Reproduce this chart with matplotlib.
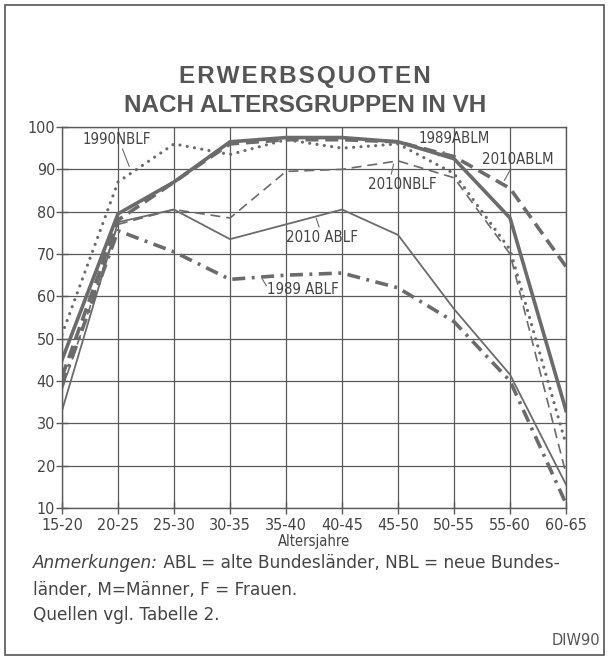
import matplotlib
matplotlib.use("Agg")
import matplotlib.pyplot as plt
from matplotlib.patches import Rectangle

# Altersgruppen
gruppen = ["15-20", "20-25", "25-30", "30-35", "35-40",
           "40-45", "45-50", "50-55", "55-60", "60-65"]

ablm_1989 = [45, 79.5, 87, 96.5, 97.5, 97.5, 96.5, 92.5, 78.5, 33]
ablm_2010 = [41, 78, 87, 96, 97, 97, 96.5, 93, 85.5, 67]
nblf_2010 = [38, 77, 80.5, 78.5, 89.5, 90, 92, 88, 70, 18]
ablf_2010 = [33, 77.5, 80.5, 73.5, 77, 80.5, 74.5, 57, 41.5, 15.5]
ablf_1989 = [39, 75.5, 70.5, 64, 65, 65.5, 62, 54, 40, 11]
nblf_1990 = [51, 87, 96, 93.5, 97, 95, 96, 89, 71, 25]

y_ticks = [10, 20, 30, 40, 50, 60, 70, 80, 90, 100]

grau = "#6b6b6b"
gitter = "#5a5a5a"
schmal = dict(family=["DejaVu Sans Condensed", "Liberation Sans Narrow", "DejaVu Sans"],
              stretch="condensed")

fig = plt.figure(figsize=(6.08, 6.58), dpi=100)
fig.patch.set_facecolor("white")
fig.add_artist(Rectangle((0.008, 0.005), 0.985, 0.988, transform=fig.transFigure,
                         fill=False, edgecolor="#555555", lw=1.2))

ax = fig.add_axes([0.102, 0.228, 0.829, 0.579])
x = list(range(len(gruppen)))

ax.plot(x, ablm_1989, color=grau, lw=2.6, solid_joinstyle="miter")
ax.plot(x, ablm_2010, color=grau, lw=2.6, dashes=(3.6, 1.9))
ax.plot(x, nblf_2010, color=grau, lw=1.2, dashes=(6, 3.5))
ax.plot(x, ablf_2010, color=grau, lw=1.3)
ax.plot(x, ablf_1989, color=grau, lw=2.6, dashes=(3.6, 1.8, 0.8, 1.8))
ax.plot(x, nblf_1990, color=grau, lw=2.3, dashes=(0.01, 2.3), dash_capstyle="round")

ax.set_xlim(0, 9)
ax.set_ylim(10, 100)
ax.set_xticks(x)
ax.set_xticklabels(gruppen, fontsize=11.5, color="#444444", **schmal)
ax.set_yticks(y_ticks)
ax.set_yticklabels([str(v) for v in y_ticks], fontsize=11.5, color="#444444", **schmal)
ax.tick_params(axis="both", direction="inout", length=8, width=1, color=gitter)
ax.tick_params(axis="x", pad=3)
ax.tick_params(axis="y", pad=1)
ax.grid(True, color=gitter, lw=0.9)
for s in ax.spines.values():
    s.set_color(gitter)
    s.set_linewidth(1.0)
ax.set_xlabel("Altersjahre", fontsize=10.5, color="#444444", labelpad=1, **schmal)

# Beschriftungen der Linien
beschr = dict(fontsize=10.7, color="#444444", ha="center", va="center", **schmal)
ax.text(0.97, 97, "1990NBLF", **beschr)
ax.plot([1.08, 1.2], [94.8, 90.7], color=grau, lw=0.8)
ax.text(7.0, 97.4, "1989ABLM", **beschr)
ax.plot([6.82, 6.72], [94.2, 93.2], color=grau, lw=0.8)
ax.text(8.13, 92.4, "2010ABLM", **beschr)
ax.plot([8.0, 7.9], [89.8, 87.4], color=grau, lw=0.8)
ax.text(6.07, 86.3, "2010NBLF", **beschr)
ax.plot([5.88, 5.92], [88.9, 91.2], color=grau, lw=0.8)
ax.text(4.65, 74.0, "2010 ABLF", **beschr)
ax.plot([4.59, 4.54], [76.4, 78.4], color=grau, lw=0.8)
ax.text(4.3, 61.5, "1989 ABLF", **beschr)
ax.plot([3.58, 3.65], [64.0, 62.5], color=grau, lw=0.8)

# Titel
titel_font = ["Liberation Sans", "DejaVu Sans"]
fig.text(0.502, 0.883, "\u200a".join("ERWERBSQUOTEN"), ha="center", va="center",
         fontsize=17.5, fontweight="bold", color="#555555", family=titel_font)
fig.text(0.502, 0.839, "NACH ALTERSGRUPPEN IN VH", ha="center", va="center",
         fontsize=17.5, fontweight="bold", color="#555555", family=titel_font)

# Anmerkungen
anm = fig.text(0.054, 0.137, "Anmerkungen:", style="italic", fontsize=12.2,
               color="#444444", va="baseline")
ax.annotate(" ABL = alte Bundesländer, NBL = neue Bundes-", xy=(1, 0), xycoords=anm,
            fontsize=12.2, color="#444444", va="bottom", annotation_clip=False)
fig.text(0.054, 0.096, "länder, M=Männer, F = Frauen.", fontsize=12.2, color="#444444", va="baseline")
fig.text(0.054, 0.058, "Quellen vgl. Tabelle 2.", fontsize=12.2, color="#444444", va="baseline")
fig.text(0.988, 0.019, "DIW90", fontsize=10.5, color="#555555", ha="right", va="baseline")

fig.savefig("out.png", dpi=100)
